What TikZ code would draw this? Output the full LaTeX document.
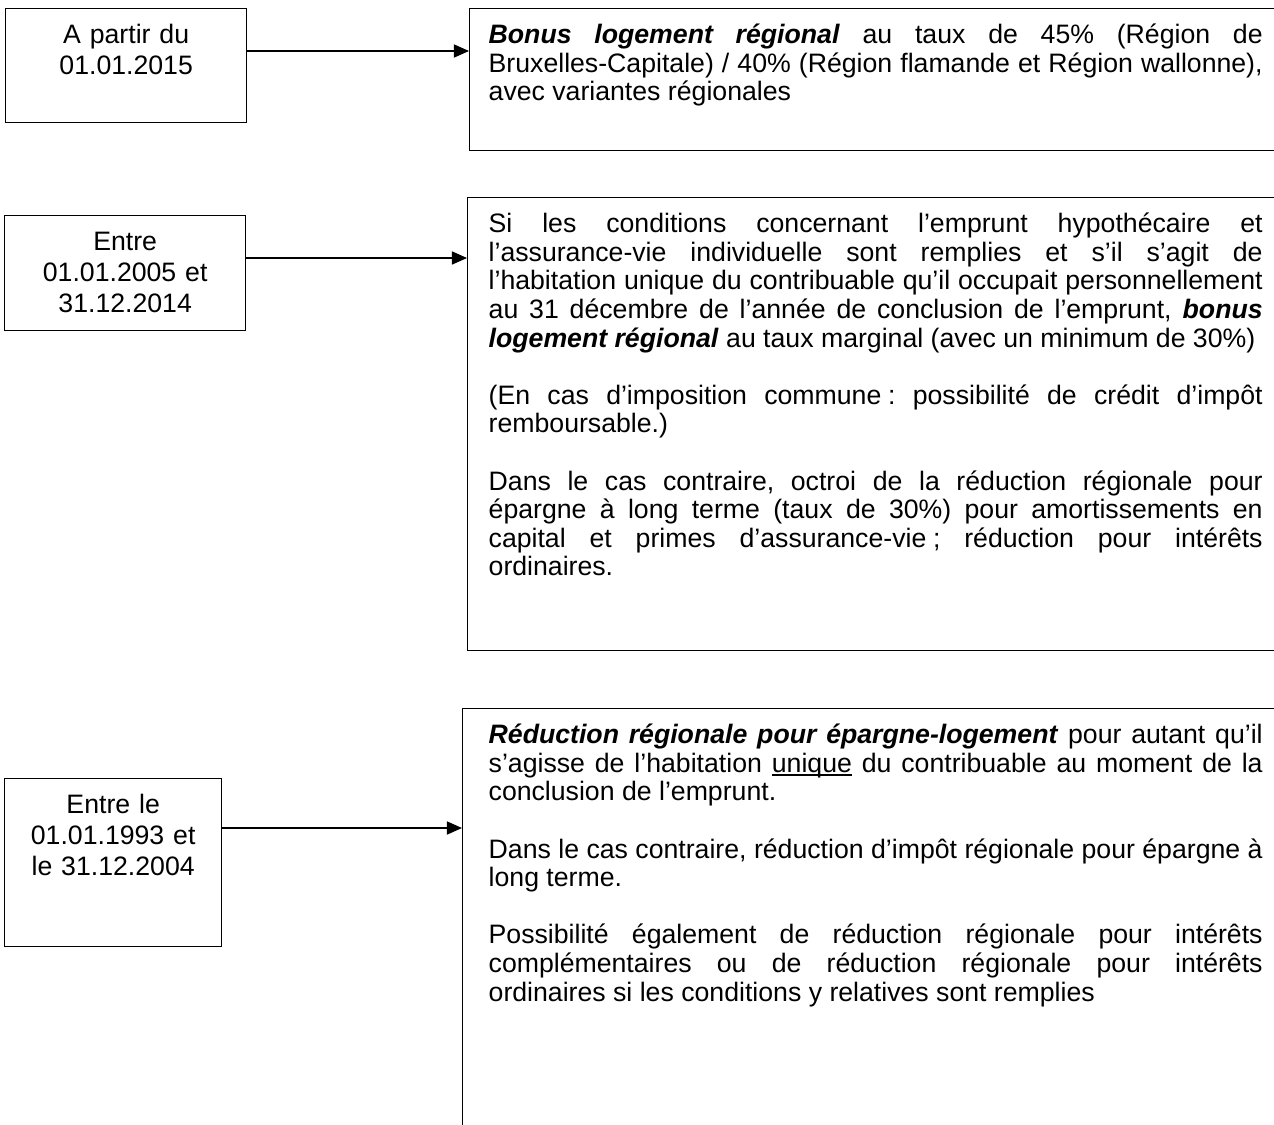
\documentclass[tikz,border=0pt]{standalone}
\usepackage{fontspec}
\setmainfont{Liberation Sans}
\usetikzlibrary{arrows.meta}
\hyphenpenalty=10000
\exhyphenpenalty=10000
\frenchspacing

\begin{document}
\begin{tikzpicture}[x=0.45pt,y=-0.45pt,
	>={Triangle[length=6.8pt,width=5.9pt]},
	datebox/.style={draw,line width=0.6pt,anchor=north west,inner sep=0pt,align=center,
		font=\fontsize{12}{13.95}\selectfont,text height=15.75pt},
	textbox/.style={draw,line width=0.6pt,anchor=north west,inner ysep=0pt,text width=348.3pt,
		align=justify,font=\fontsize{12}{12.87}\selectfont,text height=15.75pt}]
	\useasboundingbox (0,0) rectangle (1274,1124);
	\clip (0,0) rectangle (1274,1124);
	% periods
	\path (5,8) node (a1) [datebox,text width=108.45pt,text depth=35.55pt] {A partir du\\01.01.2015}
		  (4,215) node (a2) [datebox,text width=108.45pt,text depth=36pt] {Entre\\01.01.2005 et\\31.12.2014}
		  (4,778) node (a3) [datebox,text width=97.65pt,text depth=59.85pt] {Entre le\\01.01.1993 et\\le 31.12.2004};
	% regimes
	\path (469,8) node (r1) [textbox,inner xsep=8.55pt,text depth=48.15pt]
			{\textbf{\textit{Bonus logement régional}} au taux de 45\% (Région de\linebreak
			Bruxelles-Capitale) / 40\% (Région flamande et Région wallonne),\linebreak
			avec variantes régionales}
		  (467,197) node (r2) [textbox,inner xsep=9.45pt,text depth=188.1pt]
			{Si les conditions concernant l’emprunt hypothécaire et\linebreak
			l’assurance-vie individuelle sont remplies et s’il s’agit de\linebreak
			l’habitation unique du contribuable qu’il occupait personnellement\linebreak
			au 31 décembre de l’année de conclusion de l’emprunt, \textbf{\textit{bonus}}\linebreak
			\textbf{\textit{logement régional}} au taux marginal (avec un minimum de 30\%)\par
			\vspace{12.87pt}
			(En cas d’imposition commune\kern.25em: possibilité de crédit d’impôt\linebreak
			remboursable.)\par
			\vspace{12.87pt}
			Dans le cas contraire, octroi de la réduction régionale pour\linebreak
			épargne à long terme (taux de 30\%) pour amortissements en\linebreak
			capital et primes d’assurance-vie\kern.25em; réduction pour intérêts\linebreak
			ordinaires.}
		  (462,708) node (r3) [textbox,inner xsep=11.7pt,text depth=178.65pt]
			{\textbf{\textit{Réduction régionale pour épargne-logement}} pour autant qu’il\linebreak
			s’agisse de l’habitation {\setbox0\hbox{unique}\rlap{\rule[-1.5pt]{\wd0}{0.55pt}}\box0} du contribuable au moment de la\linebreak
			conclusion de l’emprunt.\par
			\vspace{12.87pt}
			Dans le cas contraire, réduction d’impôt régionale pour épargne à\linebreak
			long terme.\par
			\vspace{12.87pt}
			Possibilité également de réduction régionale pour intérêts\linebreak
			complémentaires ou de réduction régionale pour intérêts\linebreak
			ordinaires si les conditions y relatives sont remplies};
	% arrow levels
	\coordinate (lvl1) at (0,51);
	\coordinate (lvl2) at (0,258);
	\coordinate (lvl3) at (0,828);
	\draw[->,line width=0.6pt] (a1.east |- lvl1) -- (r1.west |- lvl1);
	\draw[->,line width=0.6pt] (a2.east |- lvl2) -- (r2.west |- lvl2);
	\draw[->,line width=0.6pt] (a3.east |- lvl3) -- (r3.west |- lvl3);
\end{tikzpicture}
\end{document}
